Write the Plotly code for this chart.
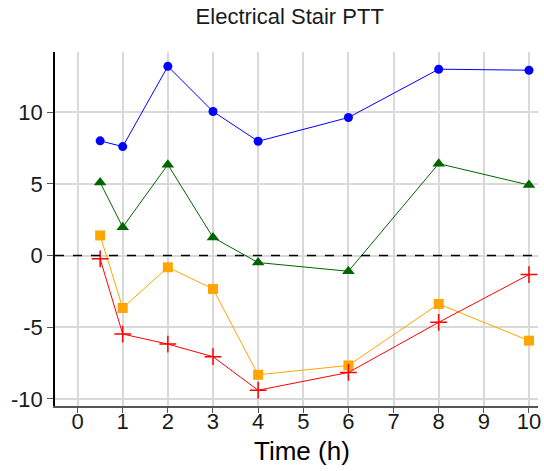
import plotly.graph_objects as go

# Measurement times (hours)
time_h = [0.5, 1, 2, 3, 4, 6, 8, 10]

# PTT change for each series
series_blue = [8.0, 7.6, 13.2, 10.05, 7.97, 9.63, 13.0, 12.93]
series_green = [5.1, 1.98, 6.34, 1.26, -0.49, -1.1, 6.41, 4.92]
series_orange = [1.4, -3.66, -0.82, -2.33, -8.32, -7.67, -3.38, -5.94]
series_red = [-0.23, -5.48, -6.18, -7.06, -9.4, -8.16, -4.66, -1.33]

x_ticks = list(range(0, 11))
y_ticks = [-10, -5, 0, 5, 10]

FONT = "Liberation Sans, Arial, sans-serif"

fig = go.Figure()

traces = [
    (series_blue, "#0000ff", "circle", 9, None),
    (series_green, "#006400", "triangle-up", 11, None),
    (series_orange, "#ffa500", "square", 10, None),
    (series_red, "#ff0000", "cross-thin", 12, 1.5),
]
for ys, color, symbol, size, lw in traces:
    marker = dict(symbol=symbol, size=size, color=color)
    if lw is not None:
        marker["line"] = dict(color=color, width=lw)
    fig.add_trace(go.Scatter(
        x=time_h, y=ys, mode="lines+markers",
        line=dict(color=color, width=1),
        marker=marker, showlegend=False, cliponaxis=False,
    ))

# Zero reference line
fig.add_shape(type="line", xref="paper", x0=0, x1=1, yref="y", y0=0, y1=0,
              line=dict(color="black", width=1.5, dash="dash"))

fig.update_layout(
    width=544, height=471,
    margin=dict(l=55, r=3, t=52, b=65),
    paper_bgcolor="white", plot_bgcolor="white",
    font=dict(family=FONT, color="#1a1a1a"),
    title=dict(text="Electrical Stair PTT", font=dict(size=22, family=FONT, color="#1a1a1a"),
               x=0.486, xref="paper", xanchor="center",
               y=1 - 16 / 471, yref="container", yanchor="middle"),
    annotations=[dict(text="Time (h)", xref="paper", yref="paper",
                      x=0.512, y=-0.08, xanchor="center", yanchor="top",
                      showarrow=False, font=dict(size=26, family=FONT, color="black"))],
)

fig.update_xaxes(
    range=[-0.5, 10.2], tickvals=x_ticks, ticktext=[str(v) for v in x_ticks],
    showgrid=True, gridcolor="#d9d9d9", gridwidth=1.5, zeroline=False,
    showline=True, linecolor="#555555", linewidth=2,
    ticks="outside", ticklen=5, tickcolor="#555555", tickwidth=1,
    ticklabeloverflow="allow", ticklabelstandoff=-10,
    tickfont=dict(size=22, family=FONT, color="#1a1a1a"),
)
fig.update_yaxes(
    range=[-10.5, 14.2], tickvals=y_ticks, ticktext=[str(v) for v in y_ticks],
    showgrid=True, gridcolor="#d9d9d9", gridwidth=1.5, zeroline=False,
    showline=True, linecolor="black", linewidth=1.5,
    ticks="outside", ticklen=6, tickcolor="#555555", tickwidth=1,
    tickfont=dict(size=22, family=FONT, color="#1a1a1a"),
)

fig.write_html("out.html")
